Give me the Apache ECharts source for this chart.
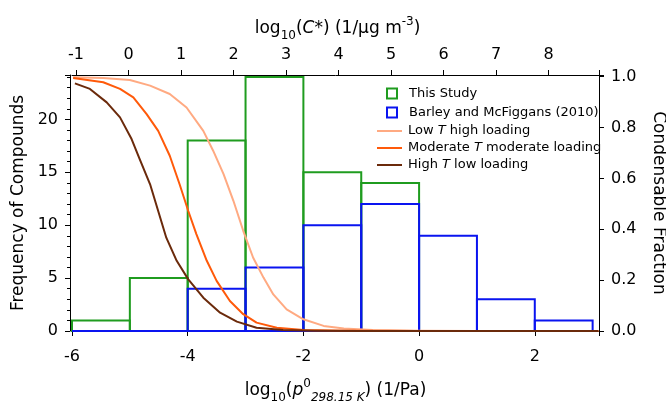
<!DOCTYPE html>
<html>
<head>
<meta charset="utf-8">
<script src="https://cdn.jsdelivr.net/npm/echarts@6/dist/echarts.min.js"></script>
<style>html,body{margin:0;padding:0;background:#fff;}#c{width:666px;height:402px;}</style>
</head>
<body>
<div id="c"></div>
<script>
// ---- data ----
var studyBinStarts = [-6, -5, -4, -3, -2, -1];
var studyCounts = [1, 5, 18, 24, 15, 14];
var barleyBinStarts = [-6, -5, -4, -3, -2, -1, 0, 1, 2];
var barleyCounts = [0, 0, 4, 6, 10, 12, 9, 3, 1];
var binWidth = 1;

var lowTX = [-5.98, -5.46, -5.0, -4.65, -4.31, -4.02, -3.73, -3.56, -3.38, -3.21, -3.04, -2.87, -2.69, -2.52, -2.29, -2.0, -1.65, -1.3, -0.8, 0, 1, 3.1];
var lowTY = [0.998, 0.995, 0.987, 0.965, 0.932, 0.879, 0.787, 0.709, 0.617, 0.512, 0.394, 0.289, 0.21, 0.144, 0.085, 0.046, 0.02, 0.01, 0.004, 0.001, 0, 0];
var modTX = [-5.98, -5.46, -5.17, -4.94, -4.71, -4.51, -4.31, -4.14, -3.99, -3.85, -3.67, -3.5, -3.27, -3.04, -2.81, -2.46, -2.0, -1.5, -1, 0, 3.1];
var modTY = [0.995, 0.978, 0.952, 0.919, 0.853, 0.787, 0.689, 0.577, 0.472, 0.381, 0.276, 0.197, 0.118, 0.066, 0.033, 0.013, 0.004, 0.002, 0.001, 0, 0];
var highTX = [-5.95, -5.69, -5.4, -5.17, -4.97, -4.83, -4.65, -4.51, -4.37, -4.19, -3.99, -3.73, -3.44, -3.15, -2.81, -2.35, -1.8, -1, 3.1];
var highTY = [0.974, 0.952, 0.899, 0.84, 0.755, 0.676, 0.577, 0.472, 0.367, 0.276, 0.203, 0.131, 0.072, 0.037, 0.013, 0.004, 0.001, 0, 0];

var xTicksBottom = [-6, -4, -2, 0, 2];
var xTicksTop = [-1, 0, 1, 2, 3, 4, 5, 6, 7, 8];

// ---- build ----
var GREEN = '#1f9c1f', BLUE = '#0a14f0', LIGHT = '#ffaa82', MOD = '#ff5a0a', DARK = '#6b2a0b';
var FONT = 'DejaVu Sans';

function bins(starts, counts) {
  return starts.map(function (s, i) { return [s, s + binWidth, counts[i]]; });
}
function pairs(xs, ys) { return xs.map(function (x, i) { return [x, ys[i]]; }); }
function histRender(color) {
  return function (params, api) {
    var p0 = api.coord([api.value(0), api.value(2)]);
    var p1 = api.coord([api.value(1), 0]);
    return {
      type: 'rect',
      shape: { x: p0[0], y: p0[1], width: p1[0] - p0[0], height: p1[1] - p0[1] },
      style: { fill: null, stroke: color, lineWidth: 2 }
    };
  };
}
function isTick(v, list) { return list.some(function (t) { return Math.abs(t - v) < 1e-6; }); }

var chart = echarts.init(document.getElementById('c'), null, { renderer: 'canvas' });
var txt = { fontFamily: FONT, color: '#000' };
var nameRich = {
  n: { fontFamily: FONT, fontSize: 17, lineHeight: 26, color: '#000' },
  i: { fontFamily: FONT, fontSize: 17, lineHeight: 26, fontStyle: 'italic', color: '#000' },
  s: { fontFamily: FONT, fontSize: 12, lineHeight: 12, verticalAlign: 'bottom', color: '#000' },
  p: { fontFamily: FONT, fontSize: 12, lineHeight: 12, verticalAlign: 'top', color: '#000' },
  si: { fontFamily: FONT, fontSize: 12, lineHeight: 12, verticalAlign: 'bottom', fontStyle: 'italic', color: '#000' }
};

var option = {
  animation: false,
  backgroundColor: '#fff',
  grid: [
    { left: 72, right: 67, top: 75, bottom: 71, outerBoundsMode: 'none', containLabel: false },
    { left: 76, right: 67, top: 75, bottom: 71, outerBoundsMode: 'none', containLabel: false }
  ],
  xAxis: [
    {
      gridIndex: 0, type: 'value', position: 'bottom', min: -6, max: 3.11, interval: 2,
      axisLine: { onZero: false, lineStyle: { color: '#000', width: 1 } },
      axisTick: { length: 5, lineStyle: { color: '#000' } },
      splitLine: { show: false },
      axisLabel: Object.assign({ fontSize: 16, margin: 18, formatter: function (v) { return isTick(v, xTicksBottom) ? String(v) : ''; } }, txt),
      name: '{n|log}{s|10}{n|(}{i|p}{p|0}{si|298.15 K}{n|) (1/Pa)}',
      nameLocation: 'middle', nameGap: 47,
      nameTextStyle: { rich: nameRich }
    },
    {
      gridIndex: 0, type: 'value', position: 'top', min: -6, max: 3.11,
      axisLine: { onZero: false, lineStyle: { color: '#000', width: 1 } },
      axisTick: { show: false }, axisLabel: { show: false }, splitLine: { show: false }
    },
    {
      gridIndex: 1, type: 'value', position: 'top', min: -1, max: 8.958, interval: 1,
      axisLine: { show: false, onZero: false },
      axisTick: { length: 5, lineStyle: { color: '#000' } },
      splitLine: { show: false },
      axisLabel: Object.assign({ fontSize: 16, margin: 12, formatter: function (v) { return isTick(v, xTicksTop) ? String(v) : ''; } }, txt),
      name: '{n|log}{s|10}{n|(}{i|C*}{n|) (1/μg m}{p|-3}{n|)}',
      nameLocation: 'middle', nameGap: 33,
      nameTextStyle: { rich: nameRich }
    }
  ],
  yAxis: [
    {
      gridIndex: 0, type: 'value', position: 'left', offset: 2, min: 0, max: 24.2, interval: 5,
      axisLine: { show: true, onZero: false, lineStyle: { color: '#000', width: 1 } },
      axisTick: { show: true, length: 5, lineStyle: { color: '#000' } },
      splitLine: { show: false },
      axisLabel: Object.assign({ fontSize: 16, margin: 12, formatter: function (v) { return (Math.abs(v % 5) < 1e-6) ? String(v) : ''; } }, txt),
      name: 'Frequency of Compounds', nameLocation: 'middle', nameGap: 38,
      nameTextStyle: { fontFamily: FONT, fontSize: 17, color: '#000' }
    },
    {
      gridIndex: 0, type: 'value', position: 'left', offset: 2, min: 0, max: 24.2, interval: 1,
      axisLine: { show: false, onZero: false },
      axisTick: { show: true, length: 3, lineStyle: { color: '#000' } },
      axisLabel: { show: false }, splitLine: { show: false }
    },
    {
      gridIndex: 0, type: 'value', position: 'right', min: 0, max: 1.0067, interval: 0.2,
      axisLine: { show: true, onZero: false, lineStyle: { color: '#000', width: 1 } },
      axisTick: { show: true, length: 5, lineStyle: { color: '#000' } },
      splitLine: { show: false },
      axisLabel: Object.assign({ fontSize: 16, margin: 12, formatter: function (v) { var k = v / 0.2; return Math.abs(k - Math.round(k)) < 1e-6 ? v.toFixed(1) : ''; } }, txt),
      name: 'Condensable Fraction', nameLocation: 'middle', nameGap: 51, nameRotate: -90,
      nameTextStyle: { fontFamily: FONT, fontSize: 17, color: '#000' }
    },
    { gridIndex: 1, type: 'value', show: false, min: 0, max: 1, axisLine: { onZero: false } }
  ],
  legend: [
    {
      left: 386, top: 85, orient: 'vertical', padding: 0, itemGap: 2,
      itemWidth: 10, itemHeight: 10,
      textStyle: { fontFamily: FONT, fontSize: 13, color: '#000', lineHeight: 17, padding: [0, 0, 0, 7] },
      data: [
        { name: 'This Study', icon: 'rect', itemStyle: { color: '#fff', borderColor: GREEN, borderWidth: 2 } },
        { name: 'Barley and McFiggans (2010)', icon: 'rect', itemStyle: { color: '#fff', borderColor: BLUE, borderWidth: 2 } }
      ]
    },
    {
      left: 377, top: 123, orient: 'vertical', padding: 0, itemGap: 1,
      itemWidth: 25, itemHeight: 2,
      textStyle: {
        fontFamily: FONT, fontSize: 13, color: '#000', lineHeight: 16, padding: [0, 0, 0, 1],
        rich: { i: { fontFamily: FONT, fontSize: 13, fontStyle: 'italic', color: '#000', lineHeight: 16 } }
      },
      formatter: function (name) { return name.replace(' T ', ' {i|T} '); },
      data: [
        { name: 'Low T high loading', icon: 'rect' },
        { name: 'Moderate T moderate loading', icon: 'rect' },
        { name: 'High T low loading', icon: 'rect' }
      ]
    }
  ],
  series: [
    {
      name: 'This Study', type: 'custom', xAxisIndex: 0, yAxisIndex: 0,
      renderItem: histRender(GREEN), itemStyle: { color: GREEN },
      encode: { x: [0, 1], y: 2 }, data: bins(studyBinStarts, studyCounts), z: 2
    },
    {
      name: 'Barley and McFiggans (2010)', type: 'custom', xAxisIndex: 0, yAxisIndex: 0,
      renderItem: histRender(BLUE), itemStyle: { color: BLUE },
      encode: { x: [0, 1], y: 2 }, data: bins(barleyBinStarts, barleyCounts), z: 3
    },
    {
      name: 'Low T high loading', type: 'line', xAxisIndex: 0, yAxisIndex: 2,
      data: pairs(lowTX, lowTY), smooth: false, showSymbol: false, symbol: 'none',
      lineStyle: { color: LIGHT, width: 2, join: 'round' }, itemStyle: { color: LIGHT }, z: 4
    },
    {
      name: 'Moderate T moderate loading', type: 'line', xAxisIndex: 0, yAxisIndex: 2,
      data: pairs(modTX, modTY), smooth: false, showSymbol: false, symbol: 'none',
      lineStyle: { color: MOD, width: 2, join: 'round' }, itemStyle: { color: MOD }, z: 5
    },
    {
      name: 'High T low loading', type: 'line', xAxisIndex: 0, yAxisIndex: 2,
      data: pairs(highTX, highTY), smooth: false, showSymbol: false, symbol: 'none',
      lineStyle: { color: DARK, width: 2, join: 'round' }, itemStyle: { color: DARK }, z: 6
    }
  ]
};
chart.setOption(option);
</script>
</body>
</html>
